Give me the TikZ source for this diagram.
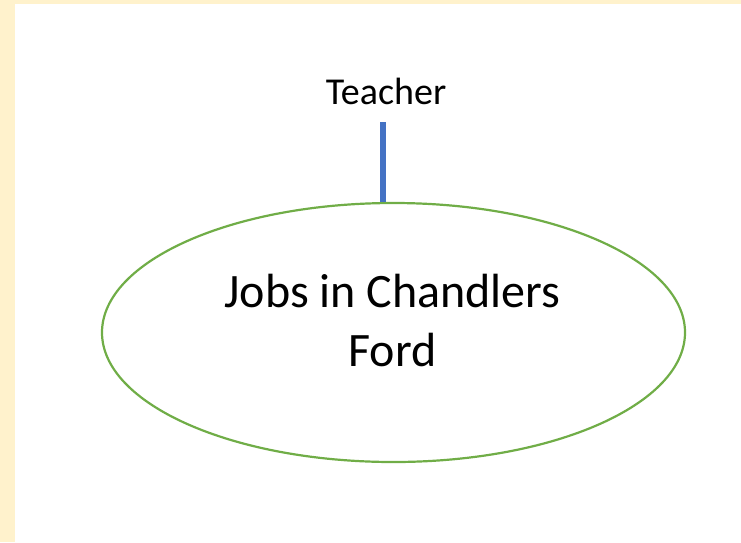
\documentclass[tikz,border=0pt]{standalone}
\usepackage{fontspec}
\setmainfont{Carlito}
\usetikzlibrary{shapes.geometric}
\definecolor{bandyellow}{HTML}{FFF2CC}
\definecolor{ellgreen}{HTML}{70AD47}
\definecolor{linkblue}{HTML}{4472C4}
\tikzset{
  x=1pt, y=1pt,
  topic/.style={ellipse, draw=ellgreen, line width=2.2pt, inner sep=0pt,
    minimum width=583pt, minimum height=259pt},
  topictext/.style={align=center, inner sep=0pt, font=\fontsize{48}{59}\selectfont},
  branchtext/.style={inner sep=0pt, font=\fontsize{38}{45}\selectfont},
  link/.style={draw=linkblue, line width=6pt}
}
\begin{document}
\begin{tikzpicture}
\useasboundingbox (0,0) rectangle (741,-542);
\fill[bandyellow] (0,0) rectangle (741,-4);
\fill[bandyellow] (0,0) rectangle (15,-542);
\node[topic] (ell) at (393.5,-332.5) {};
\node[topictext, anchor=center] (jobs) at (392.5,-320) {Jobs in Chandlers\\Ford};
\node[branchtext, anchor=base] (teacher) at (386,-104) {Teacher};
\coordinate (tline) at (383,-122);
\draw[link] (tline) -- (tline |- ell.north);
\end{tikzpicture}
\end{document}
